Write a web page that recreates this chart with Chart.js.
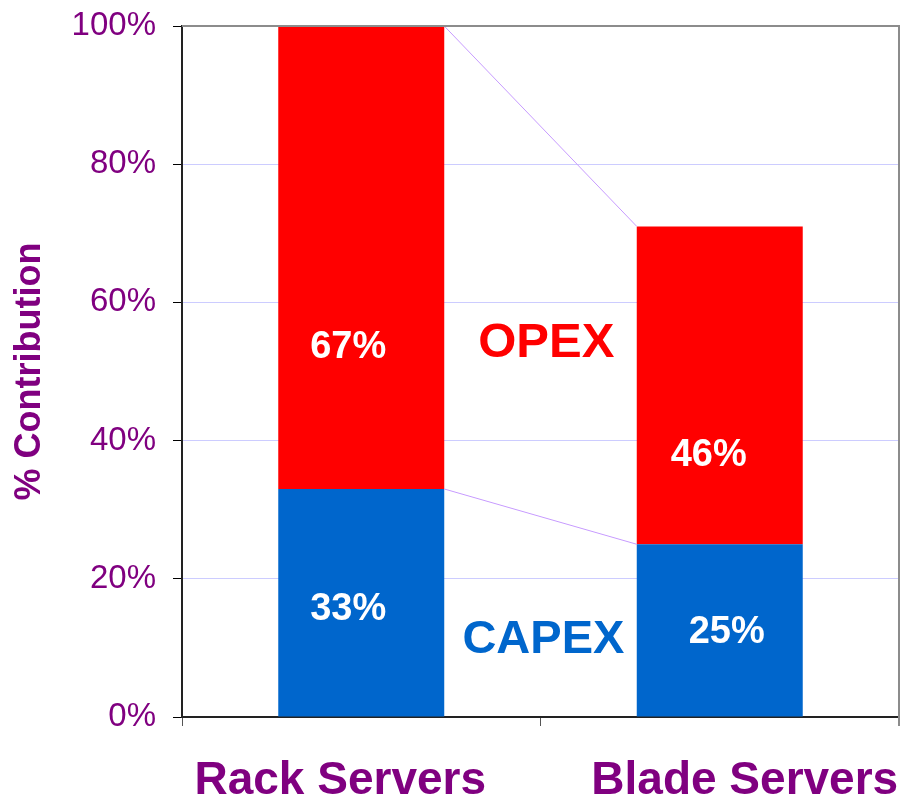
<!DOCTYPE html>
<html>
<head>
<meta charset="utf-8">
<script src="https://cdn.jsdelivr.net/npm/chart.js@4/dist/chart.umd.min.js"></script>
<style>
  html, body { margin: 0; padding: 0; background: #ffffff; }
  #chart { display: block; }
</style>
</head>
<body>
<canvas id="chart" width="903" height="799"></canvas>
<script>
const categories = ["Rack Servers", "Blade Servers"]
const capex = [33, 25]
const opex = [67, 46]
const yTicks = [0, 20, 40, 60, 80, 100]

const purple = "#800080"
const font = "'Liberation Sans', Arial, sans-serif"

// thin lines joining the tops of matching segments
const seriesLines = {
  id: "seriesLines",
  afterDatasetsDraw(chart) {
    const { ctx } = chart
    ctx.save()
    ctx.strokeStyle = "#c79bff"
    ctx.lineWidth = 1
    chart.data.datasets.forEach((ds, i) => {
      const bars = chart.getDatasetMeta(i).data
      for (let j = 0; j < bars.length - 1; j++) {
        const a = bars[j]
        const b = bars[j + 1]
        ctx.beginPath()
        ctx.moveTo(a.x + a.width / 2, a.y)
        ctx.lineTo(b.x - b.width / 2, b.y)
        ctx.stroke()
      }
    })
    ctx.restore()
  }
}

// gray top and right edge of the plot area
const plotFrame = {
  id: "plotFrame",
  afterDraw(chart) {
    const { ctx, chartArea } = chart
    ctx.save()
    ctx.strokeStyle = "#8c8c8c"
    ctx.lineWidth = 2
    ctx.beginPath()
    ctx.moveTo(chartArea.left, chartArea.top)
    ctx.lineTo(chartArea.right, chartArea.top)
    ctx.lineTo(chartArea.right, chartArea.bottom + 9)
    ctx.stroke()
    ctx.restore()
  }
}

// values inside the bars, series names between them, category names below
const textLayer = {
  id: "textLayer",
  afterDraw(chart, args, opts) {
    const { ctx } = chart
    const x = chart.scales.x
    const y = chart.scales.y
    ctx.save()
    ctx.textAlign = "center"
    ctx.textBaseline = "middle"

    ctx.font = "bold 38px " + font
    ctx.fillStyle = "#ffffff"
    chart.data.datasets.forEach((ds, i) => {
      ds.data.forEach((v, j) => {
        const p = opts.valueAt[i][j]
        ctx.fillText(v + "%", x.getPixelForValue(j) + p[0], y.getPixelForValue(p[1]))
      })
    })

    chart.data.datasets.forEach((ds, i) => {
      const p = opts.nameAt[i]
      ctx.font = "bold " + p[2] + "px " + font
      ctx.fillStyle = ds.backgroundColor
      ctx.fillText(ds.label, x.getPixelForValue(p[0]), y.getPixelForValue(p[1]))
    })

    ctx.font = "bold 46px " + font
    ctx.fillStyle = purple
    ctx.textBaseline = "alphabetic"
    chart.data.labels.forEach((label, j) => {
      ctx.fillText(label, x.getPixelForValue(j) + opts.categoryShift[j], chart.height - 5)
    })
    ctx.restore()
  }
}

new Chart(document.getElementById("chart"), {
  type: "bar",
  data: {
    labels: categories,
    datasets: [
      { label: "CAPEX", data: capex, backgroundColor: "#0066cc" },
      { label: "OPEX", data: opex, backgroundColor: "#ff0000" }
    ]
  },
  plugins: [seriesLines, plotFrame, textLayer],
  options: {
    responsive: false,
    animation: false,
    devicePixelRatio: 1,
    layout: { padding: { top: 26, right: 4, left: 0, bottom: 0 } },
    datasets: {
      bar: { barPercentage: 0.463, categoryPercentage: 1, borderWidth: 0 }
    },
    plugins: {
      legend: { display: false },
      tooltip: { enabled: false },
      textLayer: {
        valueAt: [[[-13, 15.5], [7, 12.2]], [[-13, 53.5], [-11, 37.9]]],
        nameAt: [[0.508, 11.1, 47], [0.516, 54.1, 49]],
        categoryShift: [-21, 25]
      }
    },
    scales: {
      x: {
        stacked: true,
        offset: true,
        afterFit: (scale) => {
          scale.height = 82
          scale.paddingLeft = 0
          scale.paddingRight = 0
        },
        border: { color: "#222222", width: 2 },
        grid: { drawOnChartArea: false, drawTicks: true, tickLength: 9, tickColor: "#555555" },
        ticks: { display: false }
      },
      y: {
        stacked: true,
        min: 0,
        max: 100,
        afterFit: (scale) => {
          scale.width = 182
          scale.paddingTop = 0
          scale.paddingBottom = 0
        },
        afterBuildTicks: (scale) => { scale.ticks = yTicks.map((v) => ({ value: v })) },
        border: { color: "#222222", width: 2 },
        grid: {
          color: (c) => (c.tick && c.tick.value === 100 ? "rgba(0,0,0,0)" : "#ccccff"),
          lineWidth: 1,
          tickLength: 9,
          tickColor: "#000000"
        },
        ticks: {
          color: purple,
          padding: 17,
          font: { family: font, size: 33 },
          callback: (v) => v + "%"
        },
        title: {
          display: true,
          text: "% Contribution",
          color: purple,
          font: { family: font, size: 36, weight: "bold" },
          padding: { top: 8, bottom: 0 }
        }
      }
    }
  }
})
</script>
</body>
</html>
